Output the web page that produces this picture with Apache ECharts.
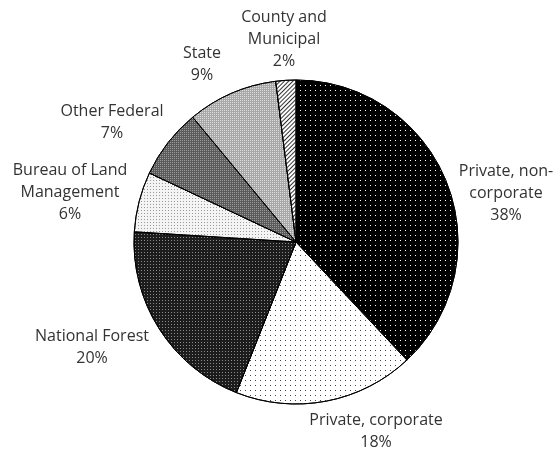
<!DOCTYPE html>
<html><head><meta charset="utf-8">
<script src="https://cdn.jsdelivr.net/npm/echarts@6/dist/echarts.min.js"></script>
<style>html,body{margin:0;padding:0;background:#fff}#c{width:558px;height:452px}</style>
</head><body><div id="c"></div>
<script>
const categories = ["Private, non-\ncorporate","Private, corporate","National Forest","Bureau of Land\nManagement","Other Federal","State","County and\nMunicipal"];
const values = [38,18,20,6,7,9,2];
const fills = ["#000000","#ffffff","#1c1c1c","#f4f4f4","#5a5a5a","#a8a8a8","#ffffff"];
const decals = [
  {symbol:'rect',color:'#ffffff',dashArrayX:[1,4],dashArrayY:[1,4],symbolSize:1},
  {symbol:'rect',color:'#444444',dashArrayX:[1,4],dashArrayY:[1,4],symbolSize:1},
  {symbol:'rect',color:'#8a8a8a',dashArrayX:[1,2],dashArrayY:[1,2],symbolSize:1},
  {symbol:'rect',color:'#9a9a9a',dashArrayX:[1,2],dashArrayY:[1,2],symbolSize:1},
  {symbol:'rect',color:'#9c9c9c',dashArrayX:[1,1],dashArrayY:[1,1],symbolSize:1},
  {symbol:'rect',color:'#dddddd',dashArrayX:[1,1],dashArrayY:[1,1],symbolSize:1},
  {symbol:'rect',color:'#333333',dashArrayX:[1,0],dashArrayY:[1,2],rotation:-Math.PI/4,symbolSize:1}
];
// label block centres (layout only)
const labelCentres = [[506,193],[376,431],[92,347],[70,192],[112,122],[202,64],[284,39]];
const chart = echarts.init(document.getElementById('c'), null, {renderer:'canvas'});
chart.setOption({
  animation:false,
  series:[{
    type:'pie',
    center:[296,242],
    radius:162,
    startAngle:90,
    clockwise:true,
    label:{show:true,position:'outside',overflow:'none',formatter:p=>p.name+"\n"+p.value+"%",color:'#333',fontFamily:'Open Sans',fontSize:16,lineHeight:22},
    labelLine:{show:false},
    labelLayout:function(p){const c=labelCentres[p.dataIndex];return {x:c[0],y:c[1],align:'center',verticalAlign:'middle'};},
    itemStyle:{borderColor:'#000',borderWidth:1},
    data:categories.map((n,i)=>({name:n,value:values[i],itemStyle:{color:fills[i],decal:decals[i]}}))
  }]
});
</script></body></html>
